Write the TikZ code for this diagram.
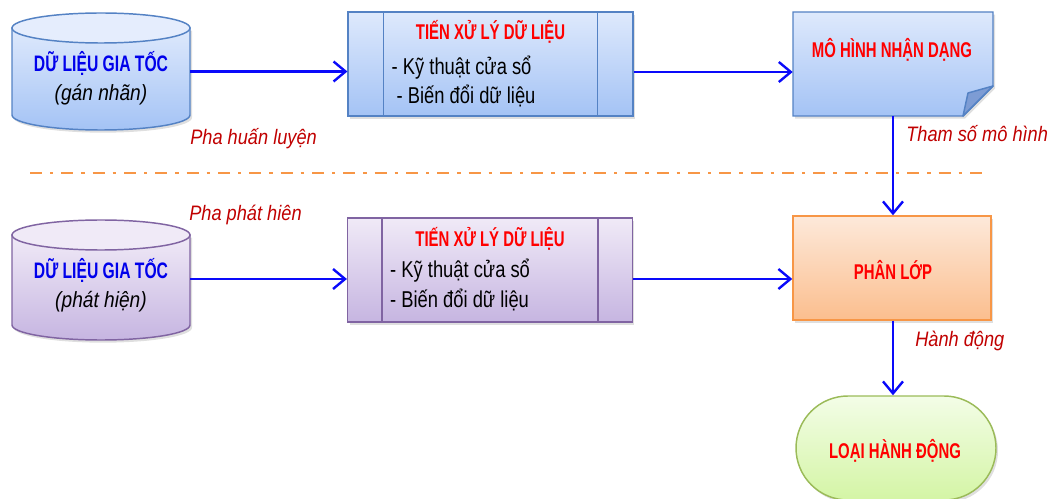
\documentclass[tikz,border=0pt]{standalone}
\usepackage{fontspec}
\setmainfont{Liberation Sans}
\newfontfamily\fcond[FakeStretch=0.7]{Liberation Sans}
\newfontfamily\fitem[FakeStretch=0.8]{Liberation Sans}
\newfontfamily\flbl[FakeStretch=0.87]{Liberation Sans}
\usetikzlibrary{arrows.meta,shapes.misc,shadows,calc}
\definecolor{arrowblue}{RGB}{10,10,250}
\definecolor{labelred}{RGB}{192,0,0}
\definecolor{titlered}{RGB}{255,0,0}
\definecolor{bluebd}{RGB}{84,130,196}
\definecolor{bluetop}{RGB}{222,233,252}
\definecolor{bluebot}{RGB}{164,195,245}
\definecolor{bluefold}{RGB}{125,156,212}
\definecolor{purbd}{RGB}{128,100,162}
\definecolor{purtop}{RGB}{240,234,247}
\definecolor{purbot}{RGB}{198,181,225}
\definecolor{orbd}{RGB}{247,150,70}
\definecolor{ortop}{RGB}{253,233,218}
\definecolor{orbot}{RGB}{251,190,142}
\definecolor{grbd}{RGB}{155,187,89}
\definecolor{grtop}{RGB}{243,253,231}
\definecolor{grbot}{RGB}{212,245,165}
\definecolor{cylblue}{RGB}{0,0,235}
\begin{document}
\begin{tikzpicture}[x=0.75pt,y=-0.75pt,
  arr/.style={draw=arrowblue, line width=1.8pt, -{Straight Barb[length=9pt,width=15pt,line width=1.8pt]}},
  shd/.style={drop shadow={opacity=0.25, shadow xshift=1.5pt, shadow yshift=-2pt}},
  holder/.style={draw=none, inner sep=0pt},
  ttl/.style={font=\fcond\bfseries\fontsize{16}{18}\selectfont, text=titlered, inner sep=0pt, anchor=base},
  cyltxt/.style={font=\fcond\bfseries\fontsize{16.8}{18}\selectfont, text=cylblue, inner sep=0pt, anchor=base},
  subtxt/.style={font=\flbl\itshape\fontsize{16.5}{18}\selectfont, inner sep=0pt, anchor=base},
  itm/.style={font=\fitem\fontsize{17.2}{18}\selectfont, anchor=base west, inner sep=0pt},
  lbl/.style={font=\flbl\itshape\fontsize{15.7}{18}\selectfont, text=labelred, inner sep=0pt, anchor=base west},
  pbox/.style={rectangle, line width=1.1pt, inner sep=0pt, minimum width=213.5pt, minimum height=78pt, shd}
]
\useasboundingbox (0,0) rectangle (1050,499);

% ---------- cylinders ----------
\path[shd, top color=bluetop, bottom color=bluebot, draw=bluebd, line width=1.1pt]
  (12,28) -- (12,115) arc[start angle=180,end angle=0,x radius=89,y radius=15] -- (190,28) -- cycle;
\draw[fill=bluetop!80!white, draw=bluebd, line width=1.1pt] (101,28) ellipse[x radius=89, y radius=15];
\node[holder, minimum width=133.5pt, minimum height=87.75pt] (cyl1) at (101,71.5) {};
\node[cyltxt] (cyl1t) at (101,72) {DỮ LIỆU GIA TỐC};
\node[subtxt] (cyl1s) at (101,101) {(gán nhãn)};

\path[shd, top color=purtop, bottom color=purbot, draw=purbd, line width=1.1pt]
  (12,235) -- (12,325) arc[start angle=180,end angle=0,x radius=89,y radius=15] -- (190,235) -- cycle;
\draw[fill=purtop, draw=purbd, line width=1.1pt] (101,235) ellipse[x radius=89, y radius=15];
\node[holder, minimum width=133.5pt, minimum height=90pt] (cyl2) at (101,279) {};
\node[cyltxt] (cyl2t) at (101,278) {DỮ LIỆU GIA TỐC};
\node[subtxt] (cyl2s) at (101,307) {(phát hiện)};

% ---------- process boxes ----------
\node[pbox, draw=bluebd, top color=bluetop, bottom color=bluebot] (b1) at (490.5,64) {};
\draw[bluebd, line width=1.1pt] ($(b1.north west)+(36,0)$) -- ($(b1.south west)+(36,0)$);
\draw[bluebd, line width=1.1pt] ($(b1.north east)+(-36,0)$) -- ($(b1.south east)+(-36,0)$);
\node[ttl] (b1t) at ($(b1.north)+(0,28)$) {TIẾN XỬ LÝ DỮ LIỆU};
\node[itm] (b1a) at ($(b1.north west)+(44,63)$) {- Kỹ thuật cửa sổ};
\node[itm] (b1b) at ($(b1.north west)+(49,92)$) {- Biến đổi dữ liệu};

\node[pbox, draw=purbd, top color=purtop, bottom color=purbot] (b2) at (490,270) {};
\draw[purbd, line width=1.1pt] ($(b2.north west)+(35,0)$) -- ($(b2.south west)+(35,0)$);
\draw[purbd, line width=1.1pt] ($(b2.north east)+(-35,0)$) -- ($(b2.south east)+(-35,0)$);
\node[ttl] (b2t) at ($(b2.north)+(0,29)$) {TIẾN XỬ LÝ DỮ LIỆU};
\node[itm] (b2a) at ($(b2.north west)+(43,60)$) {- Kỹ thuật cửa sổ};
\node[itm] (b2b) at ($(b2.north west)+(43,90)$) {- Biến đổi dữ liệu};

% ---------- model document ----------
\path[shd, top color=bluetop, bottom color=bluebot, draw=bluebd, line width=1.1pt]
  (793,12) -- (993,12) -- (993,86) -- (963,116) -- (793,116) -- cycle;
\draw[fill=bluefold, draw=bluebd, line width=1.1pt, line join=round] (993,86) -- (968,93) -- (963,116) -- cycle;
\node[holder, minimum width=150pt, minimum height=78pt] (model) at (893,64) {};
\node[ttl] (modelt) at (892,58) {MÔ HÌNH NHẬN DẠNG};

% ---------- classifier ----------
\node[pbox, minimum width=148.5pt, draw=orbd, top color=ortop, bottom color=orbot] (cls) at (892,268) {};
\node[ttl] (clst) at (893,279) {PHÂN LỚP};

% ---------- terminal ----------
\node[rounded rectangle, rounded rectangle arc length=180, shd, line width=1.1pt, draw=grbd,
  top color=grtop, bottom color=grbot, minimum width=150pt, minimum height=78pt, inner sep=0pt] (term) at (896,448) {};
\node[ttl] (termt) at (895,458) {LOẠI HÀNH ĐỘNG};

% ---------- separator ----------
\draw[orbd, line width=1.6pt, dash pattern=on 9pt off 6pt on 2.5pt off 6pt] (30,173) -- (982,173);

% ---------- labels ----------
\node[lbl] (l1) at (190,145) {Pha huấn luyện};
\node[lbl] (l2) at (189,220) {Pha phát hiên};
\node[lbl] (l3) at (906,142) {Tham số mô hình};
\node[lbl] (l4) at (915,346) {Hành động};

% ---------- connectors ----------
\draw[arr] (cyl1.east) -- (b1.west |- cyl1.east);
\draw[arr] ($(b1.east)+(0,8)$) -- ($(model.west)+(0,8)$);
\draw[arr] (model.south) -- (cls.north -| model.south);
\draw[arr] (cyl2.east) -- (b2.west |- cyl2.east);
\draw[arr] (b2.east |- cyl2.east) -- (cls.west |- cyl2.east);
\draw[arr] (cls.south -| model.south) -- (term.north -| model.south);
\end{tikzpicture}
\end{document}
